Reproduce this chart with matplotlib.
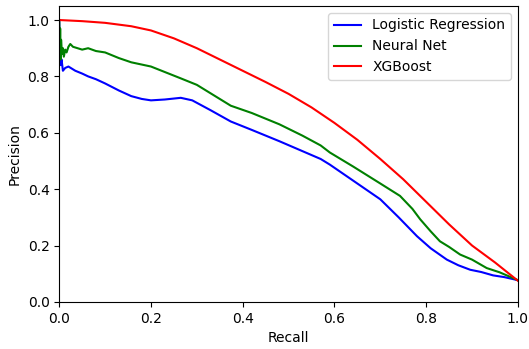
import matplotlib
matplotlib.use("Agg")
import matplotlib.pyplot as plt

# Logistic Regression
lr_recall = [0.0, 0.001, 0.002, 0.003, 0.005, 0.008, 0.013, 0.02, 0.035, 0.05, 0.063, 0.08,
             0.1, 0.13, 0.157, 0.18, 0.2, 0.23, 0.265, 0.29, 0.33, 0.374, 0.42, 0.48,
             0.53, 0.57, 0.59, 0.641, 0.70, 0.74, 0.78, 0.81, 0.845, 0.87, 0.896,
             0.92, 0.946, 0.97, 1.0]
lr_precision = [1.0, 0.85, 0.93, 0.84, 0.86, 0.82, 0.83, 0.835, 0.82, 0.81, 0.80, 0.79,
                0.775, 0.75, 0.73, 0.72, 0.715, 0.718, 0.724, 0.715, 0.68, 0.64, 0.61, 0.57,
                0.535, 0.507, 0.487, 0.43, 0.364, 0.30, 0.233, 0.19, 0.15, 0.13, 0.114,
                0.106, 0.094, 0.088, 0.077]

# Neural Net
nn_recall = [0.0, 0.001, 0.002, 0.003, 0.004, 0.006, 0.008, 0.01, 0.013, 0.016, 0.02,
             0.024, 0.03, 0.04, 0.05, 0.063, 0.08, 0.1, 0.13, 0.157, 0.2, 0.265, 0.3,
             0.374, 0.42, 0.48, 0.53, 0.57, 0.59, 0.641, 0.70, 0.743, 0.77, 0.787,
             0.81, 0.83, 0.85, 0.874, 0.9, 0.932, 0.96, 1.0]
nn_precision = [1.0, 0.87, 0.97, 0.86, 0.93, 0.88, 0.90, 0.87, 0.895, 0.885, 0.905,
                0.915, 0.905, 0.90, 0.895, 0.90, 0.89, 0.885, 0.865, 0.85, 0.835, 0.793, 0.77,
                0.696, 0.67, 0.63, 0.59, 0.555, 0.53, 0.48, 0.42, 0.376, 0.33, 0.293,
                0.25, 0.215, 0.195, 0.168, 0.15, 0.12, 0.105, 0.077]

# XGBoost
xgb_recall = [0.0, 0.05, 0.1, 0.157, 0.2, 0.25, 0.3, 0.35, 0.4, 0.45, 0.5, 0.55,
              0.6, 0.65, 0.7, 0.75, 0.8, 0.85, 0.9, 0.95, 1.0]
xgb_precision = [1.0, 0.996, 0.99, 0.978, 0.963, 0.935, 0.90, 0.86, 0.82, 0.78, 0.738, 0.69,
                 0.635, 0.575, 0.507, 0.435, 0.355, 0.275, 0.2, 0.14, 0.075]

fig = plt.figure(figsize=(5.29, 3.49), dpi=100)
ax = fig.add_axes([0.112, 0.135, 0.867, 0.848])

ax.plot(lr_recall, lr_precision, color="blue", lw=1.5, label="Logistic Regression")
ax.plot(nn_recall, nn_precision, color="green", lw=1.5, label="Neural Net")
ax.plot(xgb_recall, xgb_precision, color="red", lw=1.5, label="XGBoost")

ax.set_xlim(0, 1)
ax.set_ylim(0, 1.05)
ax.set_xlabel("Recall")
ax.set_ylabel("Precision")
ax.legend(loc="upper right")

fig.savefig("out.png", dpi=100)
